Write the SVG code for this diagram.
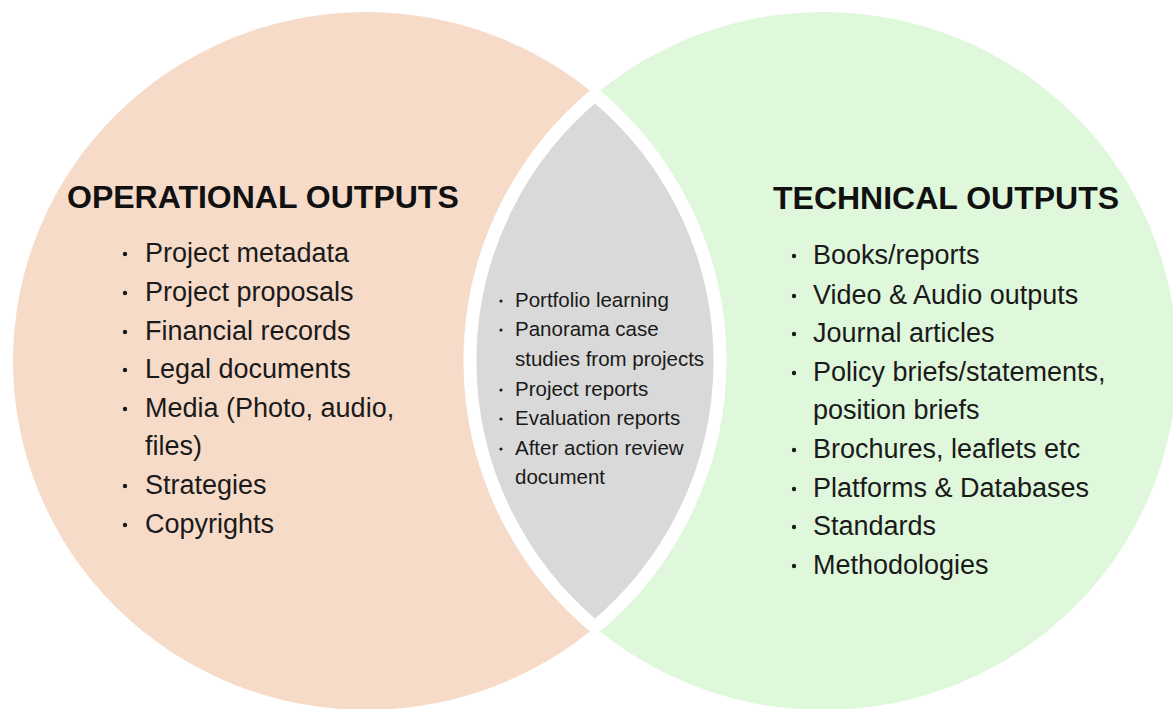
<svg xmlns="http://www.w3.org/2000/svg" width="1173" height="709" viewBox="0 0 1173 709">
  <style>
    .title { font-family: "Liberation Sans", Arial, sans-serif; font-weight: bold; font-size: 32px; fill: #111; }
    .item { font-family: "Liberation Sans", Arial, sans-serif; font-size: 27px; fill: #1a1a1a; }
    .small { font-family: "Liberation Sans", Arial, sans-serif; font-size: 20.5px; fill: #1a1a1a; }
    .dot { fill: #1a1a1a; }
  </style>
  <rect width="1173" height="709" fill="#ffffff"/>

  <!-- left set -->
  <g id="operational">
    <ellipse cx="366.5" cy="361" rx="353.5" ry="349" fill="#f7dbc9"/>
    <text class="title" x="67" y="208">OPERATIONAL OUTPUTS</text>
    <g class="item">
      <text x="145" y="262">Project metadata</text>
      <text x="145" y="301">Project proposals</text>
      <text x="145" y="340">Financial records</text>
      <text x="145" y="378">Legal documents</text>
      <text x="145" y="417">Media (Photo, audio,</text>
      <text x="145" y="455">files)</text>
      <text x="145" y="494">Strategies</text>
      <text x="145" y="533">Copyrights</text>
    </g>
    <g class="dot">
      <circle cx="125" cy="254" r="2.2"/>
      <circle cx="125" cy="293" r="2.2"/>
      <circle cx="125" cy="332" r="2.2"/>
      <circle cx="125" cy="370" r="2.2"/>
      <circle cx="125" cy="409" r="2.2"/>
      <circle cx="125" cy="486" r="2.2"/>
      <circle cx="125" cy="525" r="2.2"/>
    </g>
  </g>

  <!-- right set -->
  <g id="technical">
    <ellipse cx="823.5" cy="361" rx="353.5" ry="349" fill="#dff7db"/>
    <text class="title" x="773" y="209">TECHNICAL OUTPUTS</text>
    <g class="item">
      <text x="813" y="264">Books/reports</text>
      <text x="813" y="304">Video &amp; Audio outputs</text>
      <text x="813" y="342">Journal articles</text>
      <text x="813" y="381">Policy briefs/statements,</text>
      <text x="813" y="419">position briefs</text>
      <text x="813" y="458">Brochures, leaflets etc</text>
      <text x="813" y="497">Platforms &amp; Databases</text>
      <text x="813" y="535">Standards</text>
      <text x="813" y="574">Methodologies</text>
    </g>
    <g class="dot">
      <circle cx="794" cy="256" r="2.2"/>
      <circle cx="794" cy="296" r="2.2"/>
      <circle cx="794" cy="334" r="2.2"/>
      <circle cx="794" cy="373" r="2.2"/>
      <circle cx="794" cy="450" r="2.2"/>
      <circle cx="794" cy="489" r="2.2"/>
      <circle cx="794" cy="527" r="2.2"/>
      <circle cx="794" cy="566" r="2.2"/>
    </g>
  </g>

  <!-- overlap of both sets -->
  <g id="shared">
    <path d="M595,94.7 A353.5,349 0 0,1 595,627.3 A353.5,349 0 0,1 595,94.7 Z" fill="#d9d9d9" stroke="#ffffff" stroke-width="13"/>
    <g class="small">
      <text x="515" y="307">Portfolio learning</text>
      <text x="515" y="336">Panorama case</text>
      <text x="515" y="366">studies from projects</text>
      <text x="515" y="396">Project reports</text>
      <text x="515" y="425">Evaluation reports</text>
      <text x="515" y="455">After action review</text>
      <text x="515" y="484">document</text>
    </g>
    <g class="dot">
      <circle cx="501" cy="301" r="1.6"/>
      <circle cx="501" cy="330" r="1.6"/>
      <circle cx="501" cy="390" r="1.6"/>
      <circle cx="501" cy="419" r="1.6"/>
      <circle cx="501" cy="449" r="1.6"/>
    </g>
  </g>
</svg>
